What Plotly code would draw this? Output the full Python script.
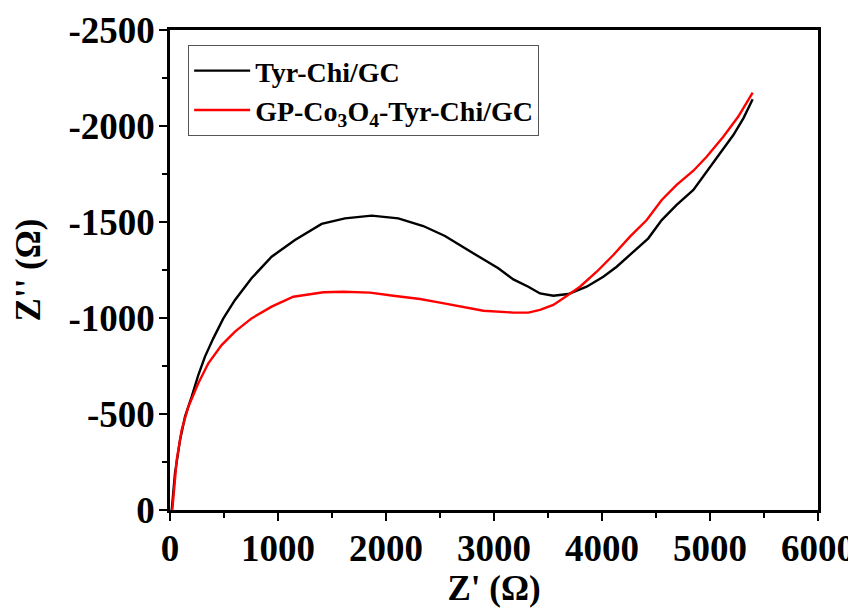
import plotly.graph_objects as go

# Tyr-Chi/GC
x_tyr = [16, 46, 93, 139, 201, 262, 324, 401, 494, 602, 755, 941, 1157, 1404, 1620, 1867, 2114,
         2345, 2546, 2685, 2870, 3040, 3179, 3318, 3426, 3549, 3688, 3858, 4012, 4136, 4290, 4429,
         4553, 4691, 4846, 4969, 5093, 5216, 5309, 5395]
y_tyr = [0, -191, -365, -486, -590, -703, -799, -894, -998, -1094, -1207, -1319, -1406, -1490,
         -1519, -1533, -1519, -1479, -1427, -1378, -1316, -1259, -1201, -1163, -1128, -1116, -1125,
         -1163, -1215, -1267, -1345, -1415, -1510, -1589, -1667, -1762, -1858, -1953, -2040, -2139]

# GP-Co3O4-Tyr-Chi/GC
x_gp = [21, 62, 108, 170, 262, 355, 478, 602, 755, 941, 1142, 1420, 1605, 1852, 2068, 2315, 2500,
        2685, 2901, 3179, 3318, 3426, 3549, 3673, 3796, 3951, 4105, 4259, 4414, 4553, 4691, 4846,
        4969, 5123, 5262, 5395]
y_gp = [0, -260, -417, -538, -660, -764, -859, -929, -998, -1059, -1111, -1134, -1137, -1132,
        -1116, -1099, -1080, -1059, -1038, -1028, -1028, -1042, -1068, -1115, -1163, -1241, -1328,
        -1424, -1510, -1615, -1693, -1767, -1840, -1944, -2049, -2174]

x_ticks = [0, 1000, 2000, 3000, 4000, 5000, 6000]
y_ticks = [0, -500, -1000, -1500, -2000, -2500]

FONT = "Liberation Serif"

fig = go.Figure()
fig.add_trace(go.Scatter(x=x_tyr, y=y_tyr, mode="lines", name="<b>Tyr-Chi/GC</b>",
                         line=dict(color="black", width=2.4)))
fig.add_trace(go.Scatter(x=x_gp, y=y_gp, mode="lines",
                         name="<b>GP-Co<sub>3</sub>O<sub>4</sub>-Tyr-Chi/GC</b>",
                         line=dict(color="red", width=2.4)))

axis_common = dict(
    showgrid=False, zeroline=False, showline=True, linecolor="black", linewidth=2.5,
    mirror=True, ticks="outside", ticklen=8, tickwidth=2, tickcolor="black",
    tickfont=dict(family=FONT, size=37, color="black"),
    automargin=False,
)

fig.update_xaxes(
    range=[0, 6000], tickvals=x_ticks, ticktext=[f"<b>{v}</b>" for v in x_ticks],
    minor=dict(ticks="outside", ticklen=5, tickwidth=2, tickcolor="black", dtick=500, tick0=0),
    ticklabelstandoff=-4,
    title=dict(text="<b>Z' (Ω)</b>", font=dict(family=FONT, size=35, color="black"), standoff=5),
    **axis_common,
)
fig.update_yaxes(
    range=[0, -2500], tickvals=y_ticks, ticktext=[f"<b>{v}</b>" for v in y_ticks],
    minor=dict(ticks="outside", ticklen=5, tickwidth=2, tickcolor="black", dtick=250, tick0=0),
    ticklabelstandoff=-3,
    title=dict(text="<b>Z'' (Ω)</b>", font=dict(family=FONT, size=35, color="black"), standoff=18),
    **axis_common,
)

# page body adds an 8px offset, so the figure is sized 848x602 to fill the 856x610 window
fig.update_layout(
    width=848, height=602,
    margin=dict(l=162, r=38, t=22, b=100, autoexpand=False),
    paper_bgcolor="white", plot_bgcolor="white",
    font=dict(family=FONT, color="black"),
    legend=dict(x=0.028, y=0.969, xanchor="left", yanchor="top",
                bgcolor="white", bordercolor="#555555", borderwidth=1,
                font=dict(family=FONT, size=28, color="black"),
                itemwidth=56, tracegroupgap=0),
)

fig.write_html("out.html")
